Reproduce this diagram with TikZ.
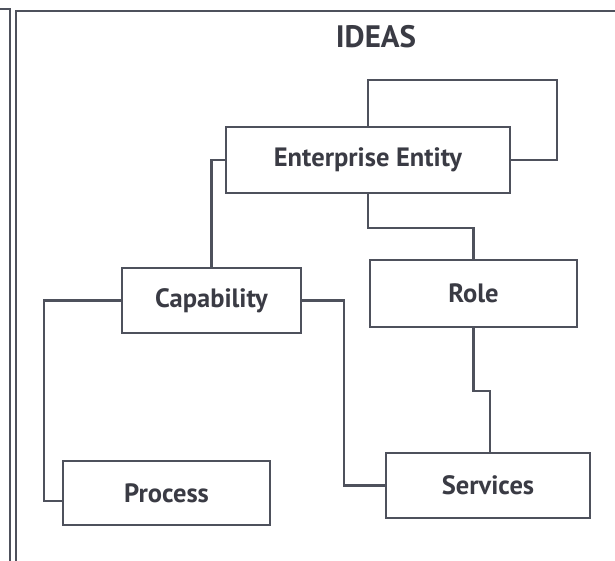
\documentclass[tikz,border=0pt]{standalone}
\usepackage{fontspec}
\setmainfont{PT Sans}
\definecolor{linegray}{HTML}{4E515C}
\definecolor{textgray}{HTML}{3A3B44}
\begin{document}
\begin{tikzpicture}[x=1pt,y=-1pt,
	box/.style={draw=linegray,line width=2.4pt,fill=white,inner sep=0pt,
		text=textgray,font=\bfseries\fontsize{26.5}{30}\selectfont},
	link/.style={draw=linegray,line width=2.4pt}]
	\useasboundingbox (0,0) rectangle (615,561);
	% frame
	\draw[link] (0,9) -- (10,9) -- (10,561);
	\draw[link] (615,11) -- (16,11) -- (16,561);
	\node[text=textgray,font=\bfseries\fontsize{31}{34}\selectfont] at (376,37) (title) {IDEAS};
	% boxes
	\node[box,minimum width=284,minimum height=66] at (368,160) (ee) {Enterprise Entity};
	\node[box,minimum width=179,minimum height=65] at (211.5,300.5) (cap) {Capability};
	\node[box,minimum width=207,minimum height=67] at (473.5,293.5) (role) {Role};
	\node[box,minimum width=207,minimum height=64] at (166.5,493) (proc) {Process};
	\node[box,minimum width=204,minimum height=65] at (488,485.5) (serv) {Services};
	% links
	\path[link] (ee.north) |- ++(189,-46) |- (ee.east);
	\path[link] (cap.north) |- (ee.west);
	\path[link] (ee.south) -- ++(0,34) -| (role.north);
	\path[link] (cap.west) -- ++(-77,0) |- ([yshift=-8pt]proc.west);
	\path[link] (cap.east) -- ++(42,0) |- (serv.west);
	\path[link] (role.south) -- ++(0,63) -| ([xshift=2pt]serv.north);
\end{tikzpicture}
\end{document}
